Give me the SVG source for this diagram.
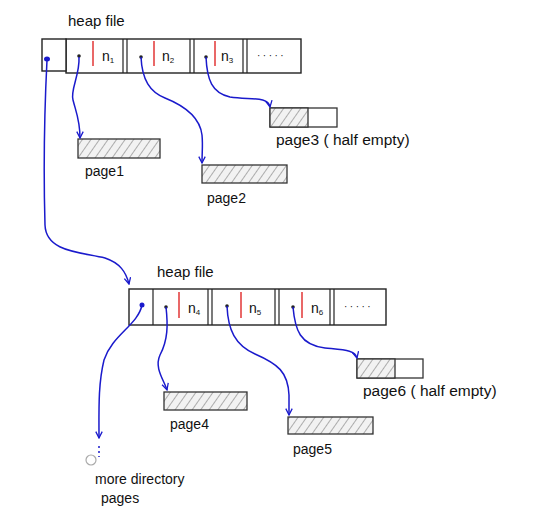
<svg xmlns="http://www.w3.org/2000/svg" width="537" height="517" viewBox="0 0 537 517">
<style>
text{font-family:"Liberation Sans","DejaVu Sans",sans-serif;fill:#111}
.box{fill:#fff;stroke:#222;stroke-width:1.4}
.sep{stroke:#222;stroke-width:1.2}
.red{stroke:#e02828;stroke-width:1.4}
.dot{fill:#222}
.bdot{fill:#1a1acc}
.lbl{font-size:14px}
.big{font-size:15.5px}
.n{font-size:14px}
.sub{font-size:8px}
.dots{font-size:10px;letter-spacing:2.5px}
.pg{fill:url(#hatch);stroke:#333;stroke-width:1.3}
.pe{fill:#fff;stroke:#333;stroke-width:1.3}
.conn{fill:none;stroke:#1a1acc;stroke-width:1.5}
</style>
<defs>
<pattern id="hatch" width="7" height="7" patternUnits="userSpaceOnUse" patternTransform="rotate(35)">
<rect width="7" height="7" fill="#f2f2f2"/>
<line x1="0" y1="0" x2="0" y2="7" stroke="#666" stroke-width="1"/>
</pattern>
<marker id="arr" viewBox="0 0 10 10" refX="9" refY="5" markerWidth="8" markerHeight="8" orient="auto" markerUnits="userSpaceOnUse">
<path d="M1,1 L9,5 L1,9" fill="none" stroke="#1a1acc" stroke-width="1.6"/>
</marker>
</defs>

<g id="dir1">
<text x="68" y="26" font-size="15">heap file</text>
<rect class="box" x="66" y="39" width="235" height="34"/>
<rect class="box" x="42" y="39" width="24" height="32"/>
<ellipse class="bdot" cx="47" cy="59" rx="3" ry="2.5"/>
<circle class="dot" cx="79" cy="56" r="1.8"/>
<line class="red" x1="93" y1="41" x2="93" y2="66"/>
<text x="102" y="61" class="n">n<tspan class="sub" dy="2">1</tspan></text>
<line class="sep" x1="123" y1="39" x2="123" y2="73"/><line class="sep" x1="127" y1="39" x2="127" y2="73"/>
<circle class="dot" cx="141" cy="57" r="1.8"/>
<line class="red" x1="154" y1="41" x2="154" y2="66"/>
<text x="162" y="61" class="n">n<tspan class="sub" dy="2">2</tspan></text>
<line class="sep" x1="190" y1="39" x2="190" y2="73"/><line class="sep" x1="194" y1="39" x2="194" y2="73"/>
<circle class="dot" cx="206" cy="57" r="1.8"/>
<line class="red" x1="215" y1="41" x2="215" y2="66"/>
<text x="221" y="61" class="n">n<tspan class="sub" dy="2">3</tspan></text>
<line class="sep" x1="243" y1="39" x2="243" y2="73"/><line class="sep" x1="247" y1="39" x2="247" y2="73"/>
<text x="257" y="59" class="dots">·····</text>
</g>

<g id="page1">
<rect class="pg" x="78" y="139" width="82" height="19"/>
<text x="85" y="176" class="lbl">page1</text>
</g>
<g id="page2">
<rect class="pg" x="202" y="165" width="85" height="18"/>
<text x="207" y="203" class="lbl">page2</text>
</g>
<g id="page3">
<rect class="pe" x="270" y="108" width="67" height="19"/>
<rect class="pg" x="270" y="108" width="38" height="19"/>
<text x="276" y="145" class="big">page3 ( half empty)</text>
</g>

<g id="dir2">
<text x="157" y="277" font-size="15">heap file</text>
<rect class="box" x="129" y="289" width="257" height="36"/>
<line class="sep" x1="153" y1="289" x2="153" y2="325"/>
<circle class="bdot" cx="142" cy="305" r="2.5"/>
<circle class="dot" cx="166" cy="307" r="1.8"/>
<line class="red" x1="179" y1="292" x2="179" y2="318"/>
<text x="188" y="313" class="n">n<tspan class="sub" dy="2">4</tspan></text>
<line class="sep" x1="208" y1="289" x2="208" y2="325"/><line class="sep" x1="212" y1="289" x2="212" y2="325"/>
<circle class="dot" cx="227" cy="306" r="1.8"/>
<line class="red" x1="241" y1="292" x2="241" y2="318"/>
<text x="249" y="313" class="n">n<tspan class="sub" dy="2">5</tspan></text>
<line class="sep" x1="275" y1="289" x2="275" y2="325"/><line class="sep" x1="279" y1="289" x2="279" y2="325"/>
<circle class="dot" cx="293" cy="307" r="1.8"/>
<line class="red" x1="302" y1="292" x2="302" y2="318"/>
<text x="311" y="313" class="n">n<tspan class="sub" dy="2">6</tspan></text>
<line class="sep" x1="330" y1="289" x2="330" y2="325"/><line class="sep" x1="334" y1="289" x2="334" y2="325"/>
<text x="344" y="310" class="dots">·····</text>
</g>

<g id="page4">
<rect class="pg" x="164" y="392" width="83" height="18"/>
<text x="170" y="429" class="lbl">page4</text>
</g>
<g id="page5">
<rect class="pg" x="288" y="417" width="85" height="17"/>
<text x="293" y="454" class="lbl">page5</text>
</g>
<g id="page6">
<rect class="pe" x="357" y="359" width="66" height="19"/>
<rect class="pg" x="357" y="359" width="38" height="19"/>
<text x="363" y="396" class="big">page6 ( half empty)</text>
</g>

<g id="more">
<line x1="99" y1="446" x2="99" y2="457" stroke="#1a1acc" stroke-width="1.5" stroke-dasharray="2,3"/>
<circle cx="91" cy="460" r="5" fill="#fff" stroke="#aaa" stroke-width="1.2"/>
<text x="95" y="484" class="lbl">more directory</text>
<text x="101" y="503" class="lbl">pages</text>
</g>

<g id="connectors">
<path class="conn" marker-end="url(#arr)" d="M79,57 C80,75 70,90 73,100 C76,112 80,120 80,138"/>
<path class="conn" marker-end="url(#arr)" d="M141,57 C142,80 150,92 165,98 C185,106 200,118 202,135 C203,145 202,152 202,163"/>
<path class="conn" marker-end="url(#arr)" d="M206,57 C207,80 212,93 230,97 C250,100 268,96 270,107"/>
<path class="conn" marker-end="url(#arr)" d="M47,60 C44,120 44,190 45,225 C46,252 80,252 105,258 C120,263 126,272 129,284"/>
<path class="conn" marker-end="url(#arr)" d="M142,305 C138,325 112,335 104,360 C98,385 99,410 99,438"/>
<path class="conn" marker-end="url(#arr)" d="M166,307 C168,325 168,340 160,355 C154,368 164,380 167,390"/>
<path class="conn" marker-end="url(#arr)" d="M227,306 C228,330 235,345 255,354 C278,364 288,372 289,395 C289,405 289,410 289,415"/>
<path class="conn" marker-end="url(#arr)" d="M293,307 C295,330 300,345 325,348 C345,350 355,350 357,358"/>
</g>
</svg>
